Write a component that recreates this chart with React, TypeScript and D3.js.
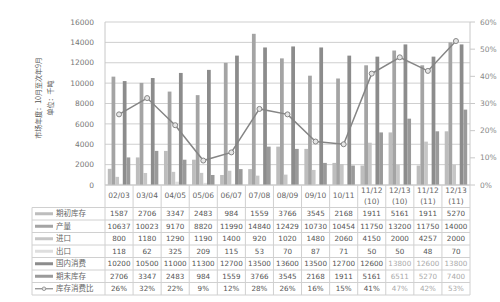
import React from "react";
import * as d3 from "d3";

const catLine1 = ["02/03","03/04","04/05","05/06","06/07","07/08","08/09","09/10","10/11","11/12","12/13","11/12","12/13"];
const catLine2 = ["","","","","","","","","","(10)","(10)","(11)","(11)"];

const beginStock = [1587,2706,3347,2483,984,1559,3766,3545,2168,1911,5161,1911,5270];
const production = [10637,10023,9170,8820,11990,14840,12429,10730,10454,11750,13200,11750,14000];
const imports = [800,1180,1290,1190,1400,920,1020,1480,2060,4150,2000,4257,2000];
const exportsV = [118,62,325,209,115,53,70,87,71,50,50,48,70];
const consumption = [10200,10500,11000,11300,12700,13500,13600,13500,12700,12600,13800,12600,13800];
const endStock = [2706,3347,2483,984,1559,3766,3545,2168,1911,5161,6511,5270,7400];
const ratio = [26,32,22,9,12,28,26,16,15,41,47,42,53];

const seriesNames = ["期初库存","产量","进口","出口","国内消费","期末库存"];
const seriesColors = ["#bdbdbd","#a4a4a4","#c6c6c6","#dedede","#8c8c8c","#9a9a9a"];
const ratioName = "库存消费比";
const leftTicks = [0,2000,4000,6000,8000,10000,12000,14000,16000];
const rightTicks = [0,10,20,30,40,50,60];

const W = 500, H = 302;
const plotL = 105, plotR = 470, plotT = 22, plotB = 185;
const headerB = 207.5, rowH = 12.5;
const tableL = 32;
const FONT = "'DejaVu Sans', Verdana, sans-serif";
const CJK = "'Noto Sans CJK SC', sans-serif";

export default function App() {
  const seriesData = [beginStock, production, imports, exportsV, consumption, endStock];
  const cats = catLine1.map((c, i) => c + catLine2[i] + i);
  const x0 = d3.scaleBand<string>().domain(cats).range([plotL, plotR]).paddingInner(0.2).paddingOuter(0.1);
  const x1 = d3.scaleBand<number>().domain(d3.range(6)).range([0, x0.bandwidth()]);
  const y = d3.scaleLinear().domain([0, 16000]).range([plotB, plotT]);
  const y2 = d3.scaleLinear().domain([0, 60]).range([plotB, plotT]);
  const step = x0.step();
  const colL = (i: number) => plotL + i * step;
  const line = d3.line<number>().x((_, i) => (x0(cats[i]) as number) + x0.bandwidth() / 2).y(d => y2(d));

  const rows: { name: string; vals: string[]; color: string; isLine?: boolean }[] = [
    ...seriesNames.map((n, si) => ({ name: n, vals: seriesData[si].map(v => String(v)), color: seriesColors[si] })),
    { name: ratioName, vals: ratio.map(v => v + "%"), color: "#888", isLine: true },
  ];
  const light = (ri: number, ci: number) => ri >= 4 && ci >= 10;

  return (
    <svg width={W} height={H} style={{ position: "absolute", left: 0, top: 0, background: "#fff" }} fontFamily={FONT}>
      {/* gridlines */}
      {leftTicks.map(t => (
        <line key={"g" + t} x1={plotL} x2={plotR} y1={y(t)} y2={y(t)} stroke="#cfcfcf" strokeWidth={1} />
      ))}
      <line x1={plotL} x2={plotL} y1={plotT} y2={plotB} stroke="#c8c8c8" />
      <line x1={plotR} x2={plotR} y1={plotT} y2={plotB} stroke="#c8c8c8" />
      {rightTicks.map(t => (
        <line key={"rt" + t} x1={plotR} x2={plotR + 5} y1={y2(t)} y2={y2(t)} stroke="#c8c8c8" />
      ))}
      {/* left tick labels */}
      {leftTicks.map(t => (
        <text key={"lt" + t} x={94} y={y(t)} dy="0.35em" textAnchor="end" fontSize={7.5} fill="#777">{t}</text>
      ))}
      {rightTicks.map(t => (
        <text key={"rl" + t} x={480} y={y2(t)} dy="0.35em" fontSize={7.5} fill="#888">{t}%</text>
      ))}
      {/* y title */}
      <text transform={`translate(41,98) rotate(-90)`} textAnchor="middle" fontSize={7} fill="#555" fontFamily={CJK}>市场年度：10月至次年9月</text>
      <text transform={`translate(53,98) rotate(-90)`} textAnchor="middle" fontSize={7} fill="#555" fontFamily={CJK}>单位：千吨</text>
      {/* bars */}
      {cats.map((c, ci) => (
        <g key={"b" + ci} transform={`translate(${x0(c)},0)`}>
          {seriesData.map((s, si) => (
            <rect key={si} x={x1(si)} width={x1.bandwidth()} y={y(s[ci])} height={plotB - y(s[ci])} fill={seriesColors[si]} />
          ))}
        </g>
      ))}
      {/* ratio line */}
      <path d={line(ratio) || ""} fill="none" stroke="#858585" strokeWidth={1.5} />
      {ratio.map((r, i) => (
        <circle key={"c" + i} cx={(x0(cats[i]) as number) + x0.bandwidth() / 2} cy={y2(r)} r={2.5} fill="#e6e6e6" stroke="#858585" strokeWidth={1} />
      ))}
      {/* table grid */}
      <line x1={plotL} x2={plotR} y1={plotB} y2={plotB} stroke="#c8c8c8" />
      {d3.range(14).map(i => (
        <line key={"v" + i} x1={colL(i)} x2={colL(i)} y1={plotB} y2={headerB + rowH * 7} stroke="#d0d0d0" />
      ))}
      <line x1={tableL} x2={tableL} y1={headerB} y2={headerB + rowH * 7} stroke="#d0d0d0" />
      {d3.range(8).map(i => (
        <line key={"h" + i} x1={tableL} x2={plotR} y1={headerB + i * rowH} y2={headerB + i * rowH} stroke="#d0d0d0" />
      ))}
      {/* header */}
      {cats.map((c, ci) => {
        const cx = colL(ci) + step / 2;
        return catLine2[ci] ? (
          <g key={"hd" + ci}>
            <text x={cx} y={190.5} dy="0.35em" textAnchor="middle" fontSize={7.5} fill="#666">{catLine1[ci]}</text>
            <text x={cx} y={201.5} dy="0.35em" textAnchor="middle" fontSize={7.5} fill="#666">{catLine2[ci]}</text>
          </g>
        ) : (
          <text key={"hd" + ci} x={cx} y={195.5} dy="0.35em" textAnchor="middle" fontSize={7.5} fill="#666">{catLine1[ci]}</text>
        );
      })}
      {/* rows */}
      {rows.map((r, ri) => {
        const cy = headerB + ri * rowH + rowH / 2;
        return (
          <g key={"r" + ri}>
            {r.isLine ? (
              <g>
                <line x1={35} x2={53} y1={cy} y2={cy} stroke={r.color} strokeWidth={1.2} />
                <circle cx={44} cy={cy} r={1.8} fill="#e6e6e6" stroke={r.color} strokeWidth={0.8} />
              </g>
            ) : (
              <rect x={35} y={cy - 1.5} width={18} height={3} fill={r.color} />
            )}
            <text x={56} y={cy} dy="0.35em" fontSize={7.5} fill="#666" fontFamily={CJK}>{r.name}</text>
            {r.vals.map((v, ci) => (
              <text key={ci} x={colL(ci) + step / 2} y={cy} dy="0.35em" textAnchor="middle" fontSize={7.2} fill={light(ri, ci) ? "#aaa" : "#555"}>{v}</text>
            ))}
          </g>
        );
      })}
    </svg>
  );
}
